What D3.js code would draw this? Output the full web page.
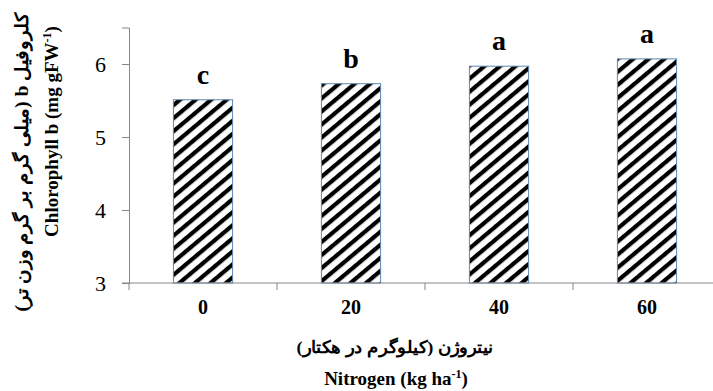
<!DOCTYPE html>
<html>
<head>
<meta charset="utf-8">
<script src="https://d3js.org/d3.v7.min.js"></script>
<style>
  body { margin: 0; background: #fff; }
  text { font-family: "Liberation Serif", "DejaVu Serif", serif; fill: #000; }
</style>
</head>
<body>
<div id="chart"></div>
<script>
// data
var nitrogen = ["0", "20", "40", "60"];
var chlB = [5.51, 5.73, 5.97, 6.07];
var letters = ["c", "b", "a", "a"];
var yTicks = [3, 4, 5, 6];

var width = 713, height = 391;
// plot area (the x axis runs past the right edge, like the original)
var edge = { left: 129, right: 721, top: 27.5, bottom: 283 };

var svg = d3.select("#chart").append("svg")
    .attr("width", width)
    .attr("height", height);

// stripe fill
var defs = svg.append("defs");
var pat = defs.append("pattern")
    .attr("id", "stripes")
    .attr("patternUnits", "userSpaceOnUse")
    .attr("width", 10)
    .attr("height", 10)
    .attr("patternTransform", "rotate(-40)");
pat.append("rect").attr("width", 10).attr("height", 10).attr("fill", "#fff");
pat.append("rect").attr("width", 10).attr("height", 4.2).attr("fill", "#000");

var x = d3.scaleBand()
    .domain(nitrogen)
    .range([edge.left, edge.right])
    .paddingInner(0.6)
    .paddingOuter(0.3);

var y = d3.scaleLinear()
    .domain([3, 6.5])
    .range([edge.bottom, edge.top]);

// bars
svg.selectAll("rect.bar")
    .data(chlB)
    .enter()
    .append("rect")
    .attr("class", "bar")
    .attr("x", function(d, i) { return x(nitrogen[i]); })
    .attr("y", function(d) { return y(d); })
    .attr("width", x.bandwidth())
    .attr("height", function(d) { return y(3) - y(d); })
    .attr("fill", "url(#stripes)")
    .attr("stroke", "#5f87b3")
    .attr("stroke-width", 1);

// significance letters
svg.selectAll("text.letter")
    .data(chlB)
    .enter()
    .append("text")
    .attr("class", "letter")
    .attr("x", function(d, i) { return x(nitrogen[i]) + x.bandwidth() / 2; })
    .attr("y", function(d) { return y(d) - 16; })
    .attr("text-anchor", "middle")
    .attr("font-size", 28)
    .attr("font-weight", "bold")
    .text(function(d, i) { return letters[i]; });

// y axis
var yAxis = svg.append("g")
    .attr("transform", "translate(" + edge.left + ",0)")
    .call(d3.axisLeft(y).tickValues(yTicks).tickSize(7).tickPadding(16).tickFormat(d3.format("d")));
yAxis.selectAll("text").attr("font-size", 22).attr("font-family", "Liberation Serif");

// x axis: labels at the bar centres, tick marks between categories
var xAxis = svg.append("g")
    .attr("transform", "translate(0," + edge.bottom + ")")
    .call(d3.axisBottom(x).tickSize(0).tickPadding(17));
xAxis.selectAll("text")
    .attr("font-size", 20)
    .attr("font-weight", "bold")
    .attr("font-family", "Liberation Serif");
xAxis.select(".domain").attr("d", "M" + (edge.left - 7) + ",0H" + edge.right);

var bounds = nitrogen.map(function(n) { return x(n) - x.step() * x.paddingOuter(); });
xAxis.selectAll("line.sep")
    .data(bounds)
    .enter()
    .append("line")
    .attr("class", "sep")
    .attr("x1", function(d) { return d; })
    .attr("x2", function(d) { return d; })
    .attr("y1", 0)
    .attr("y2", 7);

svg.selectAll(".domain, .tick line, line.sep").attr("stroke", "#868686");

// x axis titles
svg.append("text")
    .attr("x", 395)
    .attr("y", 353)
    .attr("text-anchor", "middle")
    .attr("direction", "rtl")
    .attr("font-size", 17)
    .attr("font-weight", "bold")
    .attr("textLength", 197)
    .attr("lengthAdjust", "spacingAndGlyphs")
    .text("نیتروژن (کیلوگرم در هکتار)");

var xt = svg.append("text")
    .attr("x", 396)
    .attr("y", 385)
    .attr("text-anchor", "middle")
    .attr("font-size", 19)
    .attr("font-weight", "bold");
xt.append("tspan").text("Nitrogen (kg ha");
xt.append("tspan").attr("baseline-shift", "super").attr("font-size", 12).text("-1");
xt.append("tspan").text(")");

// y axis titles
svg.append("text")
    .attr("transform", "translate(28,162) rotate(-90)")
    .attr("text-anchor", "middle")
    .attr("direction", "rtl")
    .attr("font-size", 18)
    .attr("font-weight", "bold")
    .attr("textLength", 299)
    .attr("lengthAdjust", "spacingAndGlyphs")
    .text("کلروفیل b (میلی گرم بر گرم وزن تر)");

var yt = svg.append("text")
    .attr("transform", "translate(58,131.5) rotate(-90)")
    .attr("text-anchor", "middle")
    .attr("font-size", 19)
    .attr("font-weight", "bold");
yt.append("tspan").text("Chlorophyll b (mg gFW");
yt.append("tspan").attr("baseline-shift", "super").attr("font-size", 12).text("-1");
yt.append("tspan").text(")");
</script>
</body>
</html>
